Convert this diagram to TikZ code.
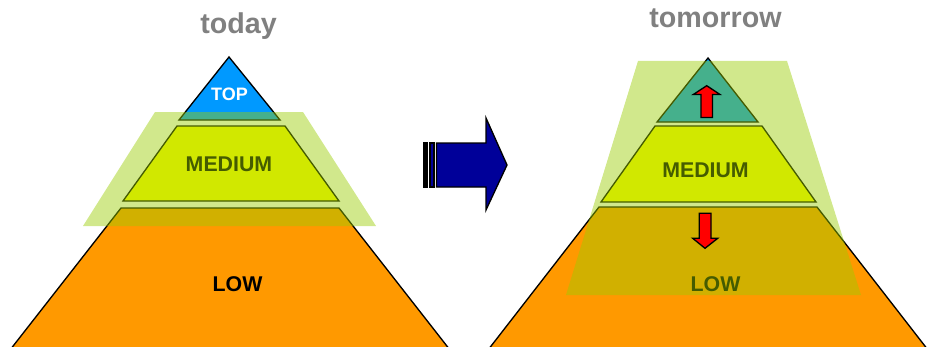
\documentclass[tikz,border=0pt]{standalone}
\usepackage{fontspec}
\setmainfont{Liberation Sans}
\definecolor{pblue}{HTML}{0099FF}
\definecolor{porange}{HTML}{FF9900}
\definecolor{pyellow}{HTML}{FFFF00}
\definecolor{pband}{HTML}{99CC00}
\definecolor{pnavy}{HTML}{000099}
\definecolor{pgray}{HTML}{808080}
\tikzset{
  layer/.style={draw=black, line width=1pt, line join=miter},
  band/.style={fill=pband, fill opacity=0.45, draw=none},
  redarrow/.style={fill=red, draw=black, line width=1pt, line join=miter},
  title/.style={font=\bfseries\fontsize{21.5}{24}\selectfont, text=pgray, anchor=base, inner sep=0pt},
  lbl/.style={font=\bfseries\fontsize{16}{18}\selectfont, anchor=base, inner sep=0pt},
  toplbl/.style={font=\bfseries\fontsize{13.5}{15}\selectfont, text=white, anchor=base, inner sep=0pt},
}
\begin{document}
\begin{tikzpicture}[x=0.75pt, y=-0.75pt]
\useasboundingbox (0,0) rectangle (930,346);
\clip (0,0) rectangle (930,346);
% ---------- today ----------
\node[title] (today) at (238.5,33.5) {today};
\fill[porange] (121,208) -- (339,208) -- (450,350) -- (10,350) -- cycle;
\draw[layer] (10,350) -- (121,208) -- (339,208) -- (450,350);
\filldraw[layer, fill=pyellow] (177,126) -- (285,126) -- (339,201) -- (123,201) -- cycle;
\filldraw[layer, fill=pblue] (229,57) -- (280,120) -- (179,120) -- cycle;
\node[toplbl] (ltop) at (229.5,100) {TOP};
\node[lbl] (lmed) at (229,171.7) {MEDIUM};
\node[lbl] (llow) at (237.5,291) {LOW};
\fill[band] (155,112) -- (303,112) -- (376,226) -- (83,226) -- cycle;
% ---------- block arrow ----------
\filldraw[draw=black, line width=0.8pt, fill=black] (423.5,143) rectangle (427.5,187);
\filldraw[draw=black, line width=0.8pt, fill=pnavy] (430,143) rectangle (434,187);
\filldraw[draw=black, line width=1pt, fill=pnavy, line join=miter]
  (436.5,143) -- (486,143) -- (486,118) -- (507,165) -- (486,210) -- (486,187) -- (436.5,187) -- cycle;
% ---------- tomorrow ----------
\node[title] (tomorrow) at (715.5,27.5) {tomorrow};
\fill[porange] (599,207) -- (817,207) -- (928,350) -- (488,350) -- cycle;
\draw[layer] (488,350) -- (599,207) -- (817,207) -- (928,350);
\filldraw[layer, fill=pyellow] (655,126) -- (762,126) -- (816,202) -- (601,202) -- cycle;
\filldraw[layer, fill=pblue] (708,58) -- (758,122) -- (657,122) -- cycle;
\node[lbl] (rmed) at (705.5,177) {MEDIUM};
\node[lbl] (rlow) at (715.5,291) {LOW};
\fill[band] (638,61) -- (787,61) -- (861,295) -- (566,295) -- cycle;
\draw[redarrow] (701,117.5) -- (712.5,117.5) -- (712.5,94.5) -- (720,94.5) -- (706.7,85.7) -- (693.3,94.5) -- (701,94.5) -- cycle;
\draw[redarrow] (699.3,213.3) -- (711,213.3) -- (711,238.3) -- (717.7,238.3) -- (705,248.3) -- (692.7,238.3) -- (699.3,238.3) -- cycle;
\end{tikzpicture}
\end{document}
